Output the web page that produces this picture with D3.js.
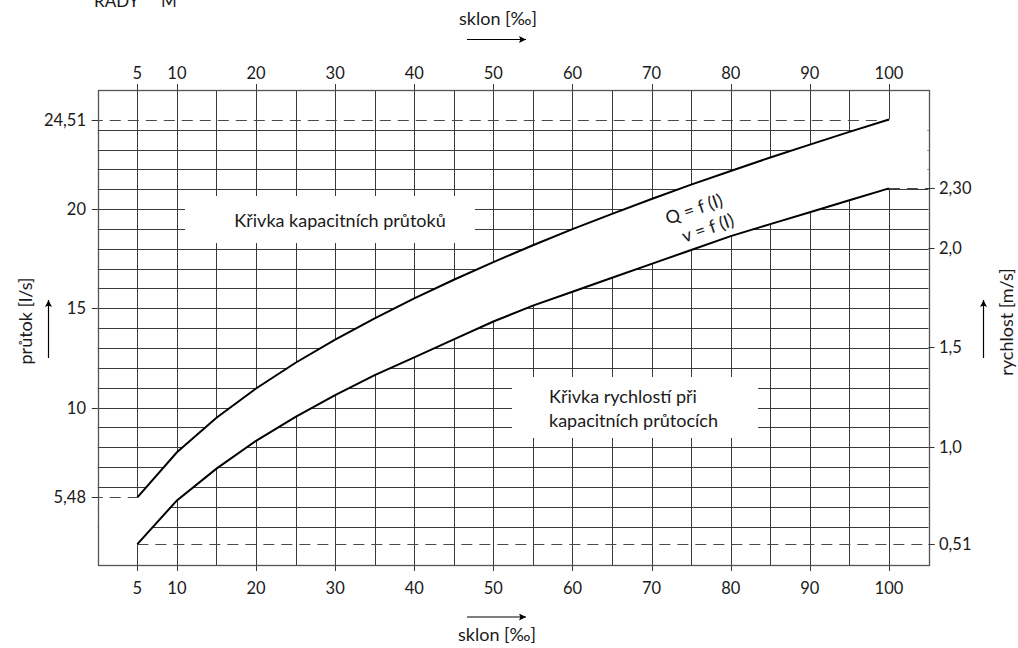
<!DOCTYPE html>
<html>
<head>
<meta charset="utf-8">
<script src="https://cdn.jsdelivr.net/npm/d3@7"></script>
<style>
  body { margin: 0; background: #fff; }
  svg text { font-family: Lato, "Open Sans", sans-serif; fill: #1a1a1a; }
</style>
</head>
<body>
<div id="chart"></div>
<script>
// sklon [‰]
const slopes = [5, 10, 15, 20, 25, 30, 35, 40, 45, 50, 55, 60, 65, 70, 75, 80, 85, 90, 95, 100]
// průtok [l/s]
const flows = [5.48, 7.75, 9.49, 10.96, 12.26, 13.42, 14.50, 15.50, 16.44, 17.33,
               18.18, 18.99, 19.76, 20.51, 21.23, 21.92, 22.60, 23.25, 23.89, 24.51]
// rychlost [m/s]
const speeds = [0.51, 0.73, 0.89, 1.03, 1.15, 1.26, 1.36, 1.45, 1.54, 1.63,
                1.71, 1.78, 1.85, 1.92, 1.99, 2.06, 2.12, 2.18, 2.24, 2.30]

const xTicks = [5, 10, 20, 30, 40, 50, 60, 70, 80, 90, 100]
const flowTicks = [24.51, 20, 15, 10, 5.48]
const flowTickLabels = ["24,51", "20", "15", "10", "5,48"]
const speedTicks = [2.30, 2.0, 1.5, 1.0, 0.51]
const speedTickLabels = ["2,30", "2,0", "1,5", "1,0", "0,51"]

const width = 1018
const height = 648
const tickFont = 16.5
const textFont = 18

const svg = d3.select("#chart")
              .append("svg")
              .attr("width", width)
              .attr("height", height)

const x = d3.scaleLinear().domain([0, 105]).range([97.8, 928.5])
const yQ = d3.scaleLinear().domain([2.07, 26]).range([565, 90])
const yV = d3.scaleLinear().domain([0.405, 2.795]).range([565, 90])

const pLeft = x(0), pRight = x(105), pTop = yQ(26), pBottom = yQ(2.07)
const crisp = v => Math.round(v) + 0.5

// grid
const grid = svg.append("g").attr("stroke", "#3a3a3a").attr("stroke-width", 1)

grid.selectAll("line.h")
    .data(d3.range(4, 25))
    .enter()
    .append("line")
    .attr("x1", pLeft).attr("x2", pRight)
    .attr("y1", d => crisp(yQ(d))).attr("y2", d => crisp(yQ(d)))

grid.selectAll("line.v")
    .data(d3.range(5, 101, 5))
    .enter()
    .append("line")
    .attr("x1", d => crisp(x(d))).attr("x2", d => crisp(x(d)))
    .attr("y1", d => xTicks.includes(d) ? pTop - 6 : pTop)
    .attr("y2", d => xTicks.includes(d) ? pBottom + 6 : pBottom)

// white band between the two curves
const n = slopes.length
const maskPts = [[pLeft, yQ(flows[0])]]
  .concat(slopes.map((s, i) => [x(s), yQ(flows[i])]))
  .concat([[pRight - 1, yQ(flows[n - 1])], [pRight - 1, yV(speeds[n - 1])]])
  .concat(slopes.map((s, i) => [x(s), yV(speeds[i])]).reverse())
  .concat([[x(5) - 1, yV(speeds[0])], [x(5) - 1, pBottom], [pLeft, pBottom]])

svg.append("path")
   .attr("d", d3.line()(maskPts))
   .attr("fill", "#fff")

// label boxes
svg.append("rect").attr("x", 185).attr("y", 196).attr("width", 290).attr("height", 47).attr("fill", "#fff")
svg.append("rect").attr("x", 512).attr("y", 377).attr("width", 246).attr("height", 61).attr("fill", "#fff")

// dashed reference lines
const dashed = svg.append("g")
                  .attr("stroke", "#4a4a4a")
                  .attr("stroke-width", 1.2)
                  .attr("stroke-dasharray", "11,7")
                  .attr("fill", "none")

dashed.append("line")
      .attr("x1", pLeft - 6).attr("x2", x(100))
      .attr("y1", crisp(yQ(flows[n - 1]))).attr("y2", crisp(yQ(flows[n - 1])))
dashed.append("line")
      .attr("x1", pLeft - 6).attr("x2", x(5))
      .attr("y1", crisp(yQ(flows[0]))).attr("y2", crisp(yQ(flows[0])))
dashed.append("line")
      .attr("x1", x(100)).attr("x2", pRight + 6)
      .attr("y1", crisp(yV(speeds[n - 1]))).attr("y2", crisp(yV(speeds[n - 1])))
dashed.append("line")
      .attr("x1", x(5)).attr("x2", pRight + 6)
      .attr("y1", crisp(yV(speeds[0]))).attr("y2", crisp(yV(speeds[0])))

// frame
svg.append("rect")
   .attr("x", crisp(pLeft)).attr("y", crisp(pTop))
   .attr("width", Math.round(pRight - pLeft)).attr("height", Math.round(pBottom - pTop))
   .attr("fill", "none").attr("stroke", "#555").attr("stroke-width", 1.3)

// ticks on the side axes
svg.append("g").selectAll("line")
   .data(flowTicks)
   .enter()
   .append("line")
   .attr("x1", pLeft - 6).attr("x2", pLeft)
   .attr("y1", d => crisp(yQ(d))).attr("y2", d => crisp(yQ(d)))
   .attr("stroke", "#333")
svg.append("g").selectAll("line")
   .data(speedTicks)
   .enter()
   .append("line")
   .attr("x1", pRight).attr("x2", pRight + 6)
   .attr("y1", d => crisp(yV(d))).attr("y2", d => crisp(yV(d)))
   .attr("stroke", "#333")

// curves
svg.append("path")
   .datum(slopes.map((s, i) => [x(s), yQ(flows[i])]))
   .attr("d", d3.line())
   .attr("fill", "none").attr("stroke", "#000").attr("stroke-width", 2)
svg.append("path")
   .datum(slopes.map((s, i) => [x(s), yV(speeds[i])]))
   .attr("d", d3.line())
   .attr("fill", "none").attr("stroke", "#000").attr("stroke-width", 2)

// tick labels
svg.append("g").selectAll("text")
   .data(xTicks)
   .enter()
   .append("text")
   .attr("x", d => x(d)).attr("y", 78.5)
   .attr("text-anchor", "middle").attr("font-size", tickFont)
   .text(d => d)
svg.append("g").selectAll("text")
   .data(xTicks)
   .enter()
   .append("text")
   .attr("x", d => x(d)).attr("y", 593.5)
   .attr("text-anchor", "middle").attr("font-size", tickFont)
   .text(d => d)
svg.append("g").selectAll("text")
   .data(flowTicks)
   .enter()
   .append("text")
   .attr("x", 86).attr("y", d => yQ(d) + 6)
   .attr("text-anchor", "end").attr("font-size", tickFont)
   .text((d, i) => flowTickLabels[i])
svg.append("g").selectAll("text")
   .data(speedTicks)
   .enter()
   .append("text")
   .attr("x", 939).attr("y", d => yV(d) + 6)
   .attr("font-size", tickFont)
   .text((d, i) => speedTickLabels[i])

// box labels
svg.append("text").attr("x", 340).attr("y", 227).attr("text-anchor", "middle")
   .attr("font-size", textFont).text("Křivka kapacitních průtoků")
svg.append("text").attr("x", 549).attr("y", 403).attr("font-size", textFont).text("Křivka rychlostí při")
svg.append("text").attr("x", 549).attr("y", 427).attr("font-size", textFont).text("kapacitních průtocích")

// curve labels
svg.append("text").attr("transform", "translate(696,215) rotate(-19)")
   .attr("text-anchor", "middle").attr("font-size", textFont).text("Q = f (I)")
svg.append("text").attr("transform", "translate(710,234) rotate(-19)")
   .attr("text-anchor", "middle").attr("font-size", textFont).text("v = f (I)")

// axis titles with arrows
svg.append("defs").append("marker")
   .attr("id", "head")
   .attr("viewBox", "0 0 10 10")
   .attr("refX", 10).attr("refY", 5)
   .attr("markerWidth", 10).attr("markerHeight", 7)
   .attr("markerUnits", "userSpaceOnUse")
   .attr("orient", "auto")
   .append("path").attr("d", "M0,0 L10,5 L0,10 L2,5 Z").attr("fill", "#000")

const arrow = (x1, y1, x2, y2) => svg.append("line")
  .attr("x1", x1).attr("y1", y1).attr("x2", x2).attr("y2", y2)
  .attr("stroke", "#000").attr("stroke-width", 1.2)
  .attr("marker-end", "url(#head)")

svg.append("text").attr("x", 498).attr("y", 25).attr("text-anchor", "middle")
   .attr("font-size", textFont).text("sklon [‰]")
arrow(467, 39.5, 526, 39.5)

arrow(467, 617, 526, 617)
svg.append("text").attr("x", 497).attr("y", 641).attr("text-anchor", "middle")
   .attr("font-size", textFont).text("sklon [‰]")

svg.append("text").attr("transform", "translate(32,321) rotate(-90)")
   .attr("text-anchor", "middle").attr("font-size", textFont).text("průtok [l/s]")
arrow(48.5, 358, 48.5, 300)

svg.append("text").attr("transform", "translate(1013,322) rotate(-90)")
   .attr("text-anchor", "middle").attr("font-size", textFont).text("rychlost [m/s]")
arrow(983.5, 358, 983.5, 300)

// clipped heading at the very top
svg.append("text").attr("x", 94).attr("y", 7).attr("font-size", 17).text("RADY")
svg.append("text").attr("x", 161).attr("y", 7).attr("font-size", 17).text("M")
</script>
</body>
</html>
